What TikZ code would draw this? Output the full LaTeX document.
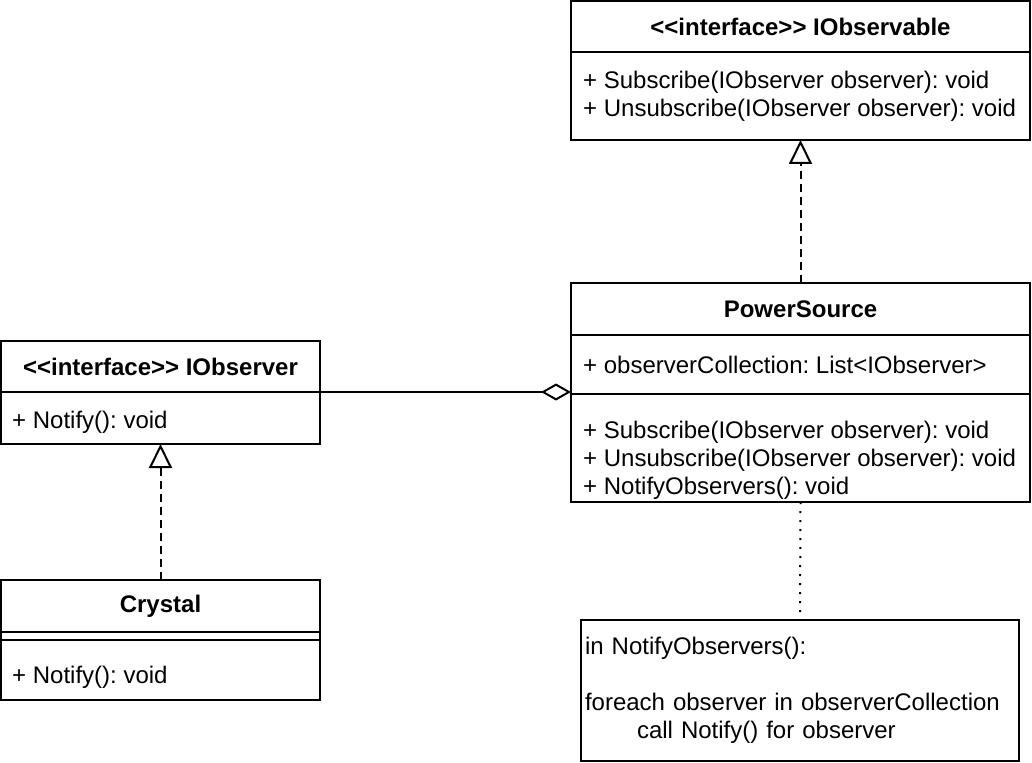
\documentclass[tikz,border=0pt]{standalone}
\usepackage{fontspec}
\setmainfont{Liberation Sans}
\usetikzlibrary{arrows.meta,positioning}
\newcommand{\stereo}[1]{<\kern0pt<#1>\kern0pt>}
\frenchspacing

\tikzset{
  umlhead/.style={draw, line width=2pt, outer sep=0pt, inner sep=0pt, anchor=north west,
    font=\fontsize{24}{28}\selectfont\bfseries},
  umlpart/.style={draw, line width=2pt, outer sep=0pt, inner sep=0pt},
  member/.style={anchor=west, inner sep=0pt, align=left, font=\fontsize{24}{28}\selectfont},
  realize/.style={line width=2pt, dash pattern=on 8pt off 5pt,
    -{Triangle[open, fill=white, length=24pt, width=23pt]}},
  aggr/.style={line width=2pt, -{Diamond[open, fill=white, length=30pt, width=17pt]}},
  noteline/.style={line width=2pt, dash pattern=on 2pt off 7pt},
  notebox/.style={draw, line width=2pt, outer sep=0pt, inner xsep=4pt, inner ysep=0pt,
    anchor=north west, align=left, font=\fontsize{24}{28}\selectfont}
}

\begin{document}
\begin{tikzpicture}[x=1pt,y=-1pt]
\useasboundingbox (0,0) rectangle (1032,762);

% IObservable
\node[umlhead, minimum width=459pt, minimum height=51pt] (obsvHead) at (571,1) {\stereo{interface} IObservable};
\node[umlpart, minimum width=459pt, minimum height=88pt, below=0pt of obsvHead] (obsvOps) {};
\node[member] (obsvOpsTxt) at (583,96) {+ Subscribe(IObserver observer): void\\+ Unsubscribe(IObserver observer): void};

% PowerSource
\node[umlhead, minimum width=459pt, minimum height=52pt] (psHead) at (571,283) {PowerSource};
\node[umlpart, minimum width=459pt, minimum height=59pt, below=0pt of psHead] (psAttr) {};
\node[umlpart, minimum width=459pt, minimum height=108pt, below=0pt of psAttr] (psOps) {};
\node[member] (psAttrTxt) at (583,365) {+ observerCollection: List<IObserver>};
\node[member] (psOpsTxt) at (583,460) {+ Subscribe(IObserver observer): void\\+ Unsubscribe(IObserver observer): void\\+ NotifyObservers(): void};

% IObserver
\node[umlhead, minimum width=319pt, minimum height=51pt] (iobsHead) at (1,341) {\stereo{interface} IObserver};
\node[umlpart, minimum width=319pt, minimum height=52pt, below=0pt of iobsHead] (iobsOps) {};
\node[member] (iobsOpsTxt) at (12,422) {+ Notify(): void};

% Crystal
\node[umlhead, minimum width=319pt, minimum height=52pt] (crysHead) at (1,580) {Crystal};
\node[umlpart, minimum width=319pt, minimum height=8pt, below=0pt of crysHead] (crysAttr) {};
\node[umlpart, minimum width=319pt, minimum height=60pt, below=0pt of crysAttr] (crysOps) {};
\node[member] (crysOpsTxt) at (12,677) {+ Notify(): void};

% note
\node[notebox, text width=430pt, minimum height=141pt] (note) at (581,620)
  {in NotifyObservers():\\[28pt]foreach observer in observerCollection\\\hspace*{52pt}call Notify() for observer};

\draw[realize] (psHead.north) -- (obsvOps.south);
\draw[realize] (crysHead.north) -- (iobsOps.south);
\draw[aggr] (iobsHead.south east) -- (iobsHead.south east -| psOps.west);
\draw[noteline] (psOps.south) -- (note.north);

\end{tikzpicture}
\end{document}
